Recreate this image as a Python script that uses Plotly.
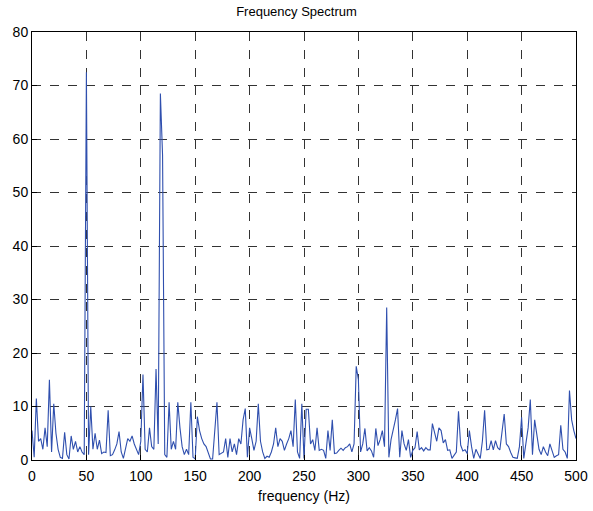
import plotly.graph_objects as go

# frequency bins (Hz)
freq = list(range(0, 501, 2))

# magnitude values, 0..500 Hz in 2 Hz steps
amp_0_100 = [
    5.5, 0.5, 11.5, 3.5, 4, 2, 6, 2.5, 15, 1.5,
    10.5, 5, 2, 0.5, 0.3, 5.2, 1, 0.2, 4.5, 2,
    3.5, 1.5, 2.5, 1.5, 1, 72.5, 1, 10, 2, 5,
    2, 3.7, 1.2, 1.5, 1.4, 9.3, 0.8, 1, 1.9, 3,
    5.3, 1.5, 0.3, 2, 4, 3.5, 4.5, 3, 2, 1,
]
amp_100_200 = [
    3.5, 16, 2, 1.5, 6, 2.5, 2, 17, 3, 68.5,
    57, 1, 0.5, 10.8, 2, 3.5, 2, 10.8, 6, 2.5,
    1, 2, 1, 10.8, 0.5, 0.2, 8.1, 5.5, 4, 3,
    2.5, 1.2, 0.2, 0.2, 5, 10.8, 1, 1.3, 1.5, 4,
    0.5, 4, 1.5, 3, 1, 4, 3, 7.5, 9.6, 0.5,
]
amp_200_300 = [
    6, 4, 1.8, 3.5, 10.5, 3.5, 1.5, 0.3, 0.7, 0.5,
    1.5, 3, 6, 2.5, 4, 3.5, 1.8, 3, 4, 5.5,
    2.5, 11.3, 1.5, 0.3, 10.5, 0.3, 9.5, 9.5, 3, 3.8,
    1.8, 6, 1.8, 2, 1.8, 0.3, 5.5, 1.8, 7.5, 1.2,
    1.3, 1.8, 2.2, 1.8, 2.3, 2.5, 3, 1.5, 3, 17.5,
]
amp_300_400 = [
    15, 1.5, 3, 5.9, 1.7, 2.3, 1.7, 0.5, 5.9, 2.7,
    3.8, 5.5, 2.5, 28.5, 0.5, 3.8, 5.5, 7.5, 9.6, 0.5,
    5.5, 3, 1.8, 3.8, 0.5, 1.8, 2.3, 5.3, 1.9, 2.3,
    1.7, 2.3, 1.9, 1.9, 6.8, 5.3, 3.5, 6, 5.5, 3.2,
    3.8, 1.8, 1.9, 0.3, 1, 1.5, 9.1, 2.8, 1.7, 1.9,
]
amp_400_500 = [
    1.2, 5.5, 2.5, 0.3, 2, 1, 0.3, 3.6, 9.3, 1.9,
    2, 3.6, 1.9, 3.6, 2.3, 1.9, 5, 8.6, 3, 2.5,
    1.4, 0.5, 0.4, 0.3, 2.5, 8, 0.3, 3, 6, 11.3,
    1, 7.5, 5, 2, 1, 2.5, 1.5, 0.8, 3, 1.5,
    0.5, 0.8, 1, 6.5, 2, 1.5, 0.3, 13, 7.5, 5.5,
    4,
]
amp = amp_0_100 + amp_100_200 + amp_200_300 + amp_300_400 + amp_400_500
assert len(amp) == len(freq)

x_ticks = [0, 50, 100, 150, 200, 250, 300, 350, 400, 450, 500]
y_ticks = [0, 10, 20, 30, 40, 50, 60, 70, 80]

fig = go.Figure(go.Scatter(x=freq, y=amp, mode='lines',
                           line=dict(color='#2f4fae', width=1.1)))

axis_style = dict(showline=True, mirror=True, linecolor='black', linewidth=1,
                  ticks='inside', ticklen=5, tickcolor='black',
                  showgrid=True, gridcolor='#333333', griddash='dash', gridwidth=1,
                  zeroline=False, automargin=False,
                  tickfont=dict(size=14, color='black'))

fig.update_layout(
    width=593, height=511,
    margin=dict(l=32, r=17, t=32, b=51),
    paper_bgcolor='white', plot_bgcolor='white',
    font=dict(family='Liberation Sans, Arial', color='black'),
    title=dict(text='Frequency Spectrum', x=0.5, xanchor='center',
               y=0.977, yanchor='middle', font=dict(size=13), automargin=False),
    showlegend=False,
    xaxis=dict(range=[0, 500], tickvals=x_ticks, ticklabelstandoff=3,
               title=dict(text='frequency (Hz)', font=dict(size=14), standoff=8),
               **axis_style),
    yaxis=dict(range=[0, 80], tickvals=y_ticks, **axis_style),
)

# drop the browser's default 8px body margin so the figure sits at the page corner
fig.write_html("out.html", config={'displayModeBar': False},
               post_script="document.body.style.margin='0';")
